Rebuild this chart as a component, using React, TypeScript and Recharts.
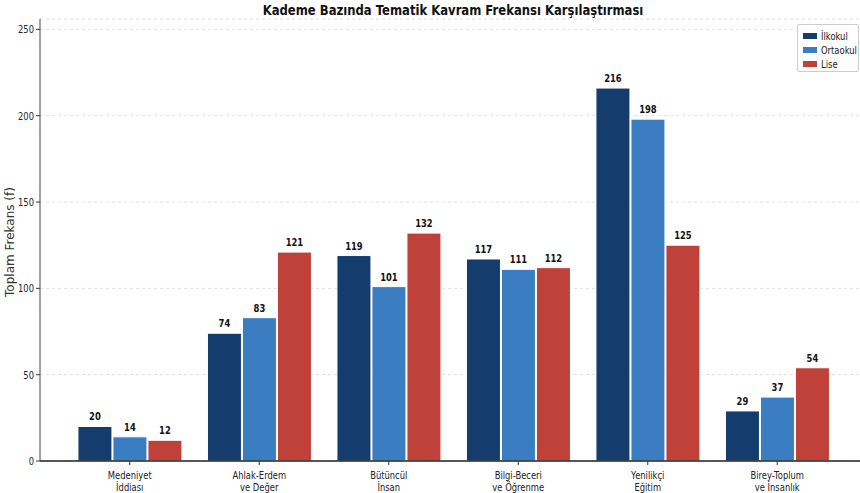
import React from 'react';
import {
  BarChart,
  Bar,
  XAxis,
  YAxis,
  CartesianGrid,
  LabelList,
} from 'recharts';

const categories = [
  'Medeniyet\nİddiası',
  'Ahlak-Erdem\nve Değer',
  'Bütüncül\nİnsan',
  'Bilgi-Beceri\nve Öğrenme',
  'Yenilikçi\nEğitim',
  'Birey-Toplum\nve İnsanlık',
];
const ilkokul = [20, 74, 119, 117, 216, 29];
const ortaokul = [14, 83, 101, 111, 198, 37];
const lise = [12, 121, 132, 112, 125, 54];
const yTicks = [0, 50, 100, 150, 200, 250];

const series = [
  { key: 'ilkokul', name: 'İlkokul', color: '#143d6e' },
  { key: 'ortaokul', name: 'Ortaokul', color: '#3a7dc0' },
  { key: 'lise', name: 'Lise', color: '#c0413a' },
];

const FONT = '"DejaVu Sans", sans-serif';
const SQUEEZE = 0.84; // no condensed font installed, so squash text horizontally

const data = categories.map((c, i) => ({
  name: c,
  ilkokul: ilkokul[i],
  ortaokul: ortaokul[i],
  lise: lise[i],
}));

function CategoryTick({ x, y, payload }: any) {
  const lines = String(payload.value).split('\n');
  return (
    <g transform={`translate(${x},${y}) scale(${SQUEEZE},1)`}>
      {lines.map((l, i) => (
        <text
          key={i}
          x={0}
          y={12 + i * 12}
          textAnchor="middle"
          fontSize={10}
          fill="#222"
          fontFamily={FONT}
        >
          {l}
        </text>
      ))}
    </g>
  );
}

function ValueTick({ x, y, payload }: any) {
  return (
    <g transform={`translate(${x},${y}) scale(${SQUEEZE},1)`}>
      <text x={0} y={4} textAnchor="end" fontSize={10} fill="#222" fontFamily={FONT}>
        {payload.value}
      </text>
    </g>
  );
}

function BarValue({ x, y, width, value }: any) {
  return (
    <g transform={`translate(${x + width / 2},${y - 6}) scale(${SQUEEZE},1)`}>
      <text
        x={0}
        y={0}
        textAnchor="middle"
        fontSize={10}
        fontWeight={700}
        fill="#111"
        fontFamily={FONT}
      >
        {value}
      </text>
    </g>
  );
}

export default function App() {
  return (
    <div
      style={{
        position: 'absolute',
        left: 0,
        top: 0,
        width: 860,
        height: 493,
        background: '#fff',
        fontFamily: FONT,
      }}
    >
      <BarChart
        width={860}
        height={493}
        data={data}
        margin={{ top: 19, right: 0, left: 0, bottom: 0 }}
        barCategoryGap="10%"
        barGap={1}
        style={{ position: 'absolute', left: 0, top: 0 }}
      >
        <CartesianGrid
          horizontal
          vertical={false}
          strokeDasharray="3 3"
          stroke="#e0e0e0"
        />
        <XAxis
          dataKey="name"
          interval={0}
          tick={<CategoryTick />}
          tickLine={{ stroke: '#333' }}
          tickSize={4}
          axisLine={{ stroke: '#222', strokeWidth: 1.5 }}
          padding={{ left: 25, right: 18 }}
          height={32}
        />
        <YAxis
          width={40}
          domain={[0, 256]}
          ticks={yTicks}
          tick={<ValueTick />}
          tickLine={{ stroke: '#333' }}
          tickSize={4}
          axisLine={{ stroke: '#444', strokeWidth: 1 }}
        />
        {series.map((s) => (
          <Bar
            key={s.key}
            dataKey={s.key}
            name={s.name}
            fill={s.color}
            stroke="#fff"
            strokeWidth={1}
            isAnimationActive={false}
          >
            <LabelList dataKey={s.key} content={<BarValue />} />
          </Bar>
        ))}
      </BarChart>
      <div
        style={{
          position: 'absolute',
          top: 2,
          left: 23,
          width: 860,
          textAlign: 'center',
          fontSize: 14,
          fontWeight: 700,
          color: '#111',
          transform: 'scaleX(0.83)',
          transformOrigin: 'center',
        }}
      >
        Kademe Bazında Tematik Kavram Frekansı Karşılaştırması
      </div>
      <div
        style={{
          position: 'absolute',
          left: 10,
          top: 242,
          transform: 'translate(-50%, -50%) rotate(-90deg)',
          whiteSpace: 'nowrap',
          fontSize: 12,
          color: '#333',
        }}
      >
        Toplam Frekans (f)
      </div>
      <div
        style={{
          position: 'absolute',
          top: 24,
          left: 797,
          width: 62,
          height: 48,
          boxSizing: 'border-box',
          border: '1px solid #ccc',
          borderRadius: 2,
          background: '#fff',
          padding: '4px 0 0 5px',
          fontSize: 10,
          color: '#222',
        }}
      >
        {series.map((s) => (
          <div
            key={s.key}
            style={{ display: 'flex', alignItems: 'center', height: 14 }}
          >
            <span
              style={{
                display: 'inline-block',
                flexShrink: 0,
                width: 14,
                height: 6,
                background: s.color,
                marginRight: 4,
              }}
            />
            <span
              style={{
                display: 'inline-block',
                whiteSpace: 'nowrap',
                transform: `scaleX(${SQUEEZE})`,
                transformOrigin: 'left center',
              }}
            >
              {s.name}
            </span>
          </div>
        ))}
      </div>
    </div>
  );
}
